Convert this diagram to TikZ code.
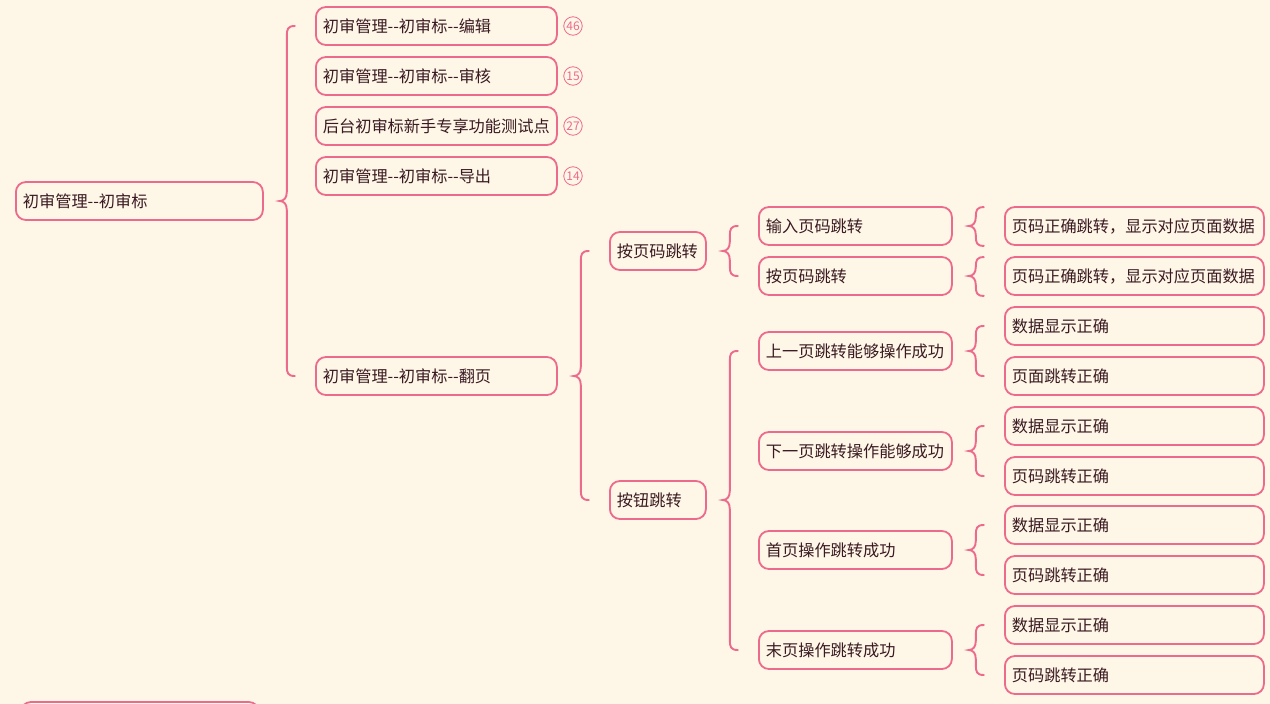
\documentclass[tikz,border=0pt]{standalone}
\usepackage{fontspec}
\newfontfamily\cjk{Noto Sans CJK SC}
\usetikzlibrary{calc}
\definecolor{bg}{HTML}{FEF6E6}
\definecolor{pk}{HTML}{EC6A8C}
\definecolor{tx}{HTML}{3A1A22}
\tikzset{
  box/.style={draw=pk, line width=1.8pt, rounded corners=10pt, fill=bg,
    minimum height=38pt, inner xsep=7pt, inner ysep=0pt, align=left, anchor=west,
    font=\cjk\fontsize{16.2}{18}\selectfont, text=tx, text height=14.5pt, text depth=1pt},
  wroot/.style={text width=233pt},
  wone/.style={text width=227pt},
  wtwo/.style={text width=82pt},
  wthree/.style={text width=179pt},
  wfour/.style={text width=245pt},
  num/.style={circle, draw=pk, line width=0.8pt, minimum size=18.5pt, inner sep=0pt,
    text=pk, font=\cjk\fontsize{12}{12}\selectfont},
  link/.style={draw=pk, line width=1.9pt, line cap=round},
}
\newcommand\mmbrace[3]{%
  \draw[link] let \p1=($(#1.east)+(16pt,0pt)$), \p2=#2, \p3=#3 in
    (\x1+15pt,\y2) .. controls (\x1+8pt,\y2) and (\x1+7pt,\y2-3pt) .. (\x1+7pt,\y2-10pt)
    -- (\x1+7pt,\y1+9pt) .. controls (\x1+7pt,\y1+3pt) and (\x1+4pt,\y1) .. (\x1,\y1)
    .. controls (\x1+4pt,\y1) and (\x1+7pt,\y1-3pt) .. (\x1+7pt,\y1-9pt)
    -- (\x1+7pt,\y3+10pt) .. controls (\x1+7pt,\y3+3pt) and (\x1+8pt,\y3) .. (\x1+15pt,\y3);}
\begin{document}
\begin{tikzpicture}[x=1pt,y=-1pt]
\fill[bg] (0,0) rectangle (1270,704);
\useasboundingbox (0,0) rectangle (1270,704);

% root
\node[box,wroot] (root) at (15,201) {初审管理--初审标};
\node[box,wroot,text width=224pt] (next) at (20,721) {};

% level 1
\node[box,wone] (a1) at (315,26) {初审管理--初审标--编辑};
\node[box,wone] (a2) at (315,76) {初审管理--初审标--审核};
\node[box,wone] (a3) at (315,126) {后台初审标新手专享功能测试点};
\node[box,wone] (a4) at (315,176) {初审管理--初审标--导出};
\node[box,wone] (fy) at (315,376) {初审管理--初审标--翻页};

\node[num] (c1) at (573,26) {46};
\node[num] (c2) at (573,76) {15};
\node[num] (c3) at (573,126) {27};
\node[num] (c4) at (573,176) {14};

% level 2
\node[box,wtwo] (p1) at (609,251) {按页码跳转};
\node[box,wtwo] (p2) at (609,500) {按钮跳转};

% level 3
\node[box,wthree] (q1) at (758,226) {输入页码跳转};
\node[box,wthree] (q2) at (758,276) {按页码跳转};
\node[box,wthree] (q3) at (758,351) {上一页跳转能够操作成功};
\node[box,wthree] (q4) at (758,451) {下一页跳转操作能够成功};
\node[box,wthree] (q5) at (758,550) {首页操作跳转成功};
\node[box,wthree] (q6) at (758,650) {末页操作跳转成功};

% level 4
\node[box,wfour] (r1) at (1004,226) {页码正确跳转，显示对应页面数据};
\node[box,wfour] (r2) at (1004,276) {页码正确跳转，显示对应页面数据};
\node[box,wfour] (r3) at (1004,326) {数据显示正确};
\node[box,wfour] (r4) at (1004,376) {页面跳转正确};
\node[box,wfour] (r5) at (1004,426) {数据显示正确};
\node[box,wfour] (r6) at (1004,476) {页码跳转正确};
\node[box,wfour] (r7) at (1004,525) {数据显示正确};
\node[box,wfour] (r8) at (1004,575) {页码跳转正确};
\node[box,wfour] (r9) at (1004,625) {数据显示正确};
\node[box,wfour] (r10) at (1004,675) {页码跳转正确};

% braces
\mmbrace{root}{(a1.west)}{(fy.west)}
\mmbrace{fy}{(p1.west)}{(p2.west)}
\mmbrace{p1}{(q1.west)}{(q2.west)}
\mmbrace{p2}{(q3.west)}{(q6.west)}
\mmbrace{q1}{($(r1.north west)+(0,1)$)}{(r1.south west)}
\mmbrace{q2}{($(r2.north west)+(0,1)$)}{(r2.south west)}
\mmbrace{q3}{(r3.west)}{(r4.west)}
\mmbrace{q4}{(r5.west)}{(r6.west)}
\mmbrace{q5}{(r7.west)}{(r8.west)}
\mmbrace{q6}{(r9.west)}{(r10.west)}
\end{tikzpicture}
\end{document}
